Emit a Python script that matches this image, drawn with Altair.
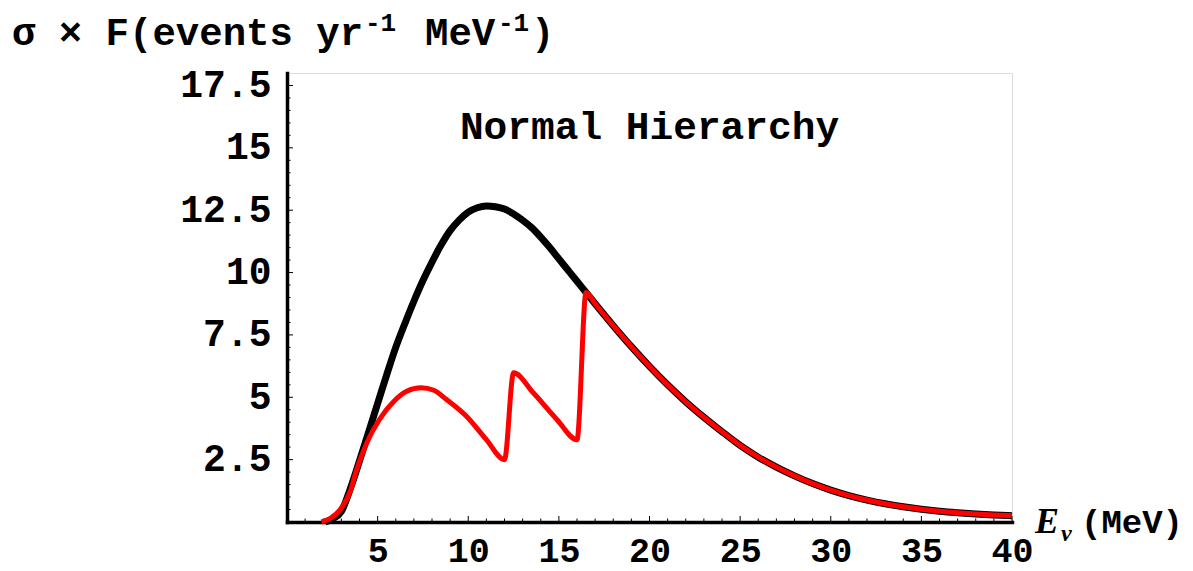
import altair as alt
import pandas as pd

# ---- data ----
black_x = [2.1, 2.5, 3.0, 3.5, 4.0, 4.5, 5.0, 5.5, 6.0, 6.5, 7.0, 7.5, 8.0, 8.5, 9.0, 9.5,
           10.0, 10.5, 11.0, 11.5, 12.0, 12.5, 13.0, 13.5, 14.0, 14.5, 15.0, 15.5, 16.0, 16.5,
           17, 18, 19, 20, 21, 22, 23, 24, 25, 26, 27, 28, 29, 30, 31, 32, 33, 34, 35, 36,
           37, 38, 39, 40]
black_y = [0.0, 0.12, 0.42, 1.35, 2.45, 3.6, 4.75, 5.9, 7.0, 7.95, 8.85, 9.68, 10.42, 11.1, 11.68, 12.1,
           12.42, 12.6, 12.67, 12.64, 12.55, 12.35, 12.1, 11.8, 11.42, 11.0, 10.55, 10.1, 9.65, 9.2,
           8.75, 7.87, 7.03, 6.24, 5.5, 4.82, 4.2, 3.62, 3.07, 2.6, 2.2, 1.85, 1.54, 1.28,
           1.06, 0.88, 0.73, 0.61, 0.51, 0.43, 0.37, 0.32, 0.28, 0.25]

red_x = [1.9, 2.4, 3.0, 3.5, 3.8, 4.4, 5.1, 5.9, 6.6, 7.4, 8.1, 8.8, 9.9, 11.0, 12.0, 12.5,
         13.6, 14.9, 16.0, 16.5] + black_x[30:]
red_y = [0.0, 0.15, 0.56, 1.25, 2.0, 3.17, 4.11, 4.84, 5.24, 5.38, 5.28, 4.91, 4.24, 3.30, 2.50, 5.98,
         5.17, 4.10, 3.30, 9.2] + black_y[30:]

x_major = [5, 10, 15, 20, 25, 30, 35, 40]
y_major = [2.5, 5, 7.5, 10, 12.5, 15, 17.5]
x_minor = [v for v in range(1, 40) if v % 5 != 0]
y_minor = [v / 2 for v in range(1, 36) if v % 5 != 0]

panel_title = "Normal Hierarchy"

W, H = 725, 449
FONT = "'Courier New', Courier, 'Nimbus Mono PS', 'Nimbus Mono L', FreeMono, 'Liberation Mono', monospace"
SERIF = "'Times New Roman', 'Liberation Serif', serif"

xs = alt.Scale(domain=[0, 40], nice=False, zero=False)
ys = alt.Scale(domain=[0, 18], nice=False, zero=False)

black_df = pd.DataFrame({"x": black_x, "y": black_y, "i": range(len(black_x))})
red_df = pd.DataFrame({"x": red_x, "y": red_y, "i": range(len(red_x))})

x_axis = alt.Axis(values=x_major, labelExpr="'' + datum.value", ticks=False, tickSize=0,
                  grid=False, domainColor="black", domainWidth=3.5, domainCap="square",
                  labelFont=FONT, labelFontWeight="bold", labelFontSize=35, labelColor="black",
                  labelPadding=11, title=None, labelFlush=False, labelOverlap=False)
y_axis = alt.Axis(values=y_major, labelExpr="'' + datum.value", ticks=False, tickSize=0,
                  grid=False, domainColor="black", domainWidth=3.5, domainCap="square",
                  labelFont=FONT, labelFontWeight="bold", labelFontSize=38, labelColor="black",
                  labelPadding=16, title=None, labelFlush=False, labelOverlap=False)

black = alt.Chart(black_df).mark_line(color="black", strokeWidth=7, strokeJoin="round",
                                      strokeCap="butt", interpolate="monotone").encode(
    x=alt.X("x:Q", scale=xs, axis=x_axis),
    y=alt.Y("y:Q", scale=ys, axis=y_axis),
    order="i:Q",
)
red = alt.Chart(red_df).mark_line(color="#ff0000", strokeWidth=5, strokeJoin="round",
                                  strokeCap="butt", interpolate="monotone").encode(
    x=alt.X("x:Q", scale=xs),
    y=alt.Y("y:Q", scale=ys),
    order="i:Q",
)

xmaj = alt.Chart(pd.DataFrame({"v": x_major})).mark_rule(color="black", strokeWidth=1).encode(
    x=alt.X("v:Q", scale=xs), y=alt.value(H), y2=alt.value(H - 6))
xmin = alt.Chart(pd.DataFrame({"v": x_minor})).mark_rule(color="black", strokeWidth=1).encode(
    x=alt.X("v:Q", scale=xs), y=alt.value(H), y2=alt.value(H - 3.5))
ymaj = alt.Chart(pd.DataFrame({"v": y_major})).mark_rule(color="black", strokeWidth=1).encode(
    y=alt.Y("v:Q", scale=ys), x=alt.value(0), x2=alt.value(6))
ymin = alt.Chart(pd.DataFrame({"v": y_minor})).mark_rule(color="black", strokeWidth=1).encode(
    y=alt.Y("v:Q", scale=ys), x=alt.value(0), x2=alt.value(3.5))

# panel label (in data coordinates)
label = alt.Chart(pd.DataFrame({"t": [panel_title], "x": [20.0], "y": [15.85]})).mark_text(
    font=FONT, fontWeight="bold", fontSize=39.5, color="black", align="center", baseline="middle"
).encode(x=alt.X("x:Q", scale=xs), y=alt.Y("y:Q", scale=ys), text="t:N")

# origin of plot area on the page
OX, OY = 287, 73.3


def txt(s, px, py, size, font=FONT, style="normal"):
    return alt.Chart(pd.DataFrame({"t": [s]})).mark_text(
        font=font, fontWeight="bold", fontStyle=style, fontSize=size, color="black",
        align="left", baseline="alphabetic"
    ).encode(x=alt.value(px - OX), y=alt.value(py - OY), text="t:N")


ttl = [
    txt("σ × F(events yr", 12, 45, 39),
    txt("-1", 365, 31, 26),
    txt("MeV", 425, 45, 39),
    txt("-1", 498, 31, 26),
    txt(")", 531, 45, 39),
]
xlab = [
    txt("E", 1035, 533, 36, font=SERIF, style="italic"),
    txt("ν", 1061, 541, 24, font=SERIF, style="italic"),
    txt("(MeV)", 1081, 533, 34),
]

chart = alt.layer(xmin, xmaj, ymin, ymaj, black, red, label, *ttl, *xlab).properties(
    width=W, height=H,
    autosize=alt.AutoSizeParams(type="none"),
    padding={"left": 279, "top": 65, "right": 173, "bottom": 49},
).configure_view(stroke=None).configure(background="white")

chart.save("out.html", embed_options={"renderer": "svg", "actions": False})
